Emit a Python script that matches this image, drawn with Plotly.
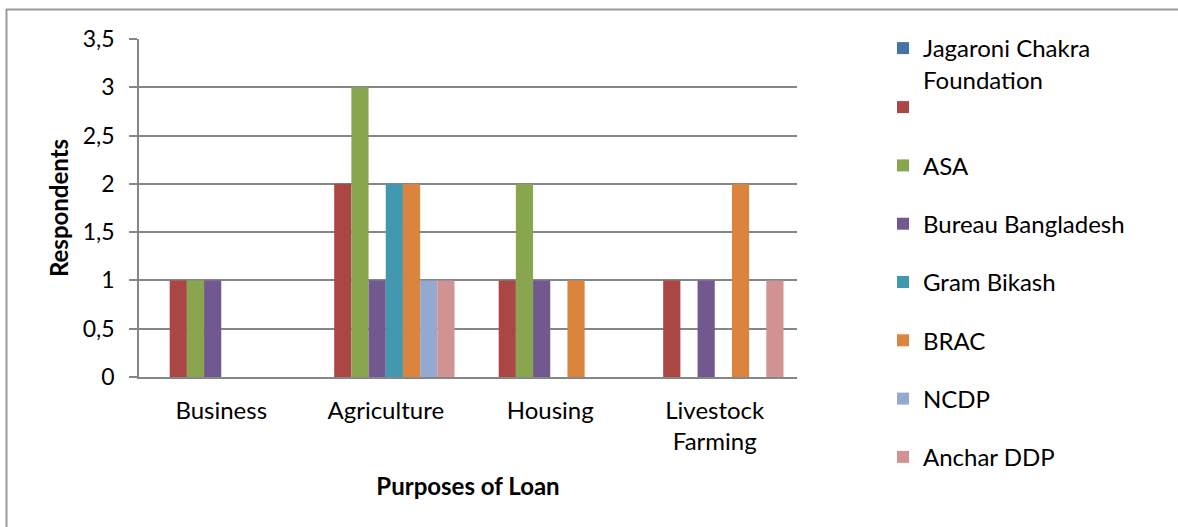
import plotly.graph_objects as go

# Loan purposes and respondents per organisation
purposes = ["Business", "Agriculture", "Housing", "Livestock<br>Farming"]

organisations = [
    "Jagaroni Chakra<br>Foundation",
    " ",
    "ASA",
    "Bureau Bangladesh",
    "Gram Bikash",
    "BRAC",
    "NCDP",
    "Anchar DDP",
]

jagaroni_chakra = [0, 0, 0, 0]
unnamed_org = [1, 2, 1, 1]
asa = [1, 3, 2, 0]
bureau_bangladesh = [1, 1, 1, 1]
gram_bikash = [0, 2, 0, 0]
brac = [0, 2, 1, 2]
ncdp = [0, 1, 0, 0]
anchar_ddp = [0, 1, 0, 1]

series = [jagaroni_chakra, unnamed_org, asa, bureau_bangladesh,
          gram_bikash, brac, ncdp, anchar_ddp]

colors = ["#4572A7", "#AA4643", "#89A54E", "#71588F",
          "#4198AF", "#DB843D", "#93A9CF", "#D19392"]

FONT = "Lato"
FS = 24
W, H = 1178, 527
L, R, T, B = 139, 381, 39, 150
pw, ph = W - L - R, H - T - B


def py(pixel_y):
    """Pixel row (from top of page) to paper y."""
    return (H - B - pixel_y) / ph


def px(pixel_x):
    """Pixel column to paper x."""
    return (pixel_x - L) / pw


fig = go.Figure()
for i, (name, vals, col) in enumerate(zip(organisations, series, colors)):
    fig.add_trace(go.Bar(
        x=purposes, y=vals, name=name, marker_color=col,
        marker_line_width=0, legendgroup=f"g{i}",
        legend="legend" if i == 0 else "legend2",
    ))

# outer chart frame (runs off the right and bottom edges)
fig.add_shape(
    type="rect", xref="paper", yref="paper",
    x0=px(6.5), x1=px(W + 10),
    y0=py(H + 10), y1=py(9.5),
    line=dict(color="#9a9a9a", width=2), fillcolor="rgba(0,0,0,0)",
    layer="below",
)

legend_common = dict(
    xanchor="left", yanchor="top", valign="top",
    font=dict(family=FONT, size=FS, color="#000000"),
    bgcolor="rgba(0,0,0,0)", maxheight=1000,
)

fig.update_layout(
    width=W, height=H,
    margin=dict(l=L, r=R, t=T, b=B),
    paper_bgcolor="white", plot_bgcolor="white",
    separators=", ",
    barmode="group", bargap=0.164, bargroupgap=0,
    font=dict(family=FONT, size=FS, color="#000000"),
    showlegend=True,
    legend=dict(x=px(883), y=py(26), **legend_common),
    legend2=dict(x=px(883), y=py(85), tracegroupgap=24.1, **legend_common),
    xaxis=dict(
        showgrid=False, showline=True, linecolor="#868686", linewidth=1.5,
        ticks="", tickfont=dict(size=FS), ticklabelstandoff=11,
        title=dict(text="<b>Purposes of Loan</b>", font=dict(size=FS), standoff=24),
    ),
    yaxis=dict(
        range=[0, 3.5], dtick=0.5, tick0=0,
        showgrid=True, gridcolor="#868686", gridwidth=1.5,
        showline=True, linecolor="#868686", linewidth=1.5,
        ticks="outside", ticklen=8, tickcolor="#868686", tickwidth=1.5,
        ticklabelstandoff=10,
        tickfont=dict(size=23),
        zeroline=False,
        title=dict(text="<b>Respondents</b>", font=dict(size=FS), standoff=7),
    ),
)

fig.write_html("out.html")
